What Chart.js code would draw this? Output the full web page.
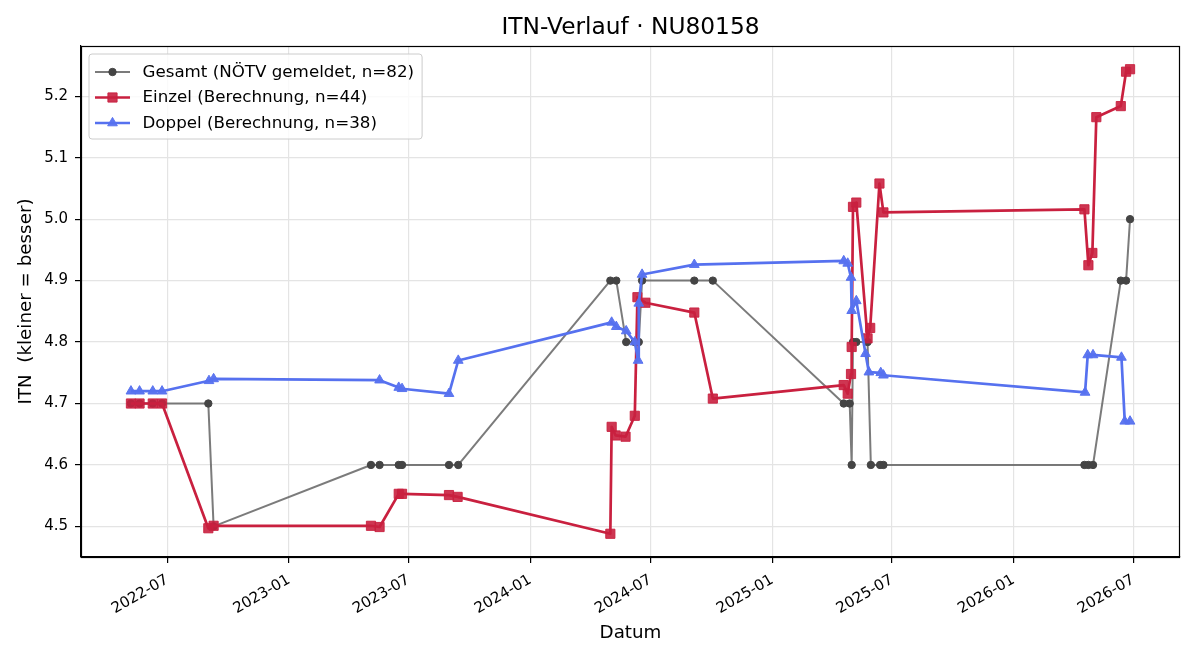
<!DOCTYPE html>
<html>
<head>
<meta charset="utf-8">
<script src="https://cdn.jsdelivr.net/npm/chart.js@4.4.1/dist/chart.umd.min.js"></script>
<style>
html,body{margin:0;padding:0;background:#ffffff;}
canvas{display:block;}
</style>
</head>
<body>
<canvas id="c" width="1200" height="660"></canvas>
<script>
// ---------- texts ----------
const titleText = 'ITN-Verlauf · NU80158';
const xAxisTitle = 'Datum';
const yAxisTitle = 'ITN  (kleiner = besser)';

// ---------- tick labels ----------
const xTickLabels = ['2022-07','2023-01','2023-07','2024-01','2024-07','2025-01','2025-07','2026-01','2026-07'];
const yTickValues = [4.5, 4.6, 4.7, 4.8, 4.9, 5.0, 5.1, 5.2];

// ---------- series: Gesamt ----------
const gesamtLabel = 'Gesamt (NÖTV gemeldet, n=82)';
const gesamtDates = [
  '2022-05-07','2022-05-20','2022-06-09','2022-06-23','2022-09-01','2022-09-09',
  '2023-05-05','2023-05-18','2023-06-16','2023-06-21','2023-08-31','2023-09-14',
  '2024-05-01','2024-05-10','2024-05-25','2024-06-07','2024-06-13','2024-06-18','2024-09-05','2024-10-03',
  '2025-04-19','2025-04-28','2025-05-01','2025-05-03','2025-05-08','2025-05-25','2025-05-30','2025-06-13','2025-06-18',
  '2026-04-18','2026-04-24','2026-05-01','2026-06-12','2026-06-20','2026-06-26'
];
const gesamtValues = [
  4.7, 4.7, 4.7, 4.7, 4.7, 4.5,
  4.6, 4.6, 4.6, 4.6, 4.6, 4.6,
  4.9, 4.9, 4.8, 4.8, 4.8, 4.9, 4.9, 4.9,
  4.7, 4.7, 4.6, 4.8, 4.8, 4.8, 4.6, 4.6, 4.6,
  4.6, 4.6, 4.6, 4.9, 4.9, 5.0
];

// ---------- series: Einzel ----------
const einzelLabel = 'Einzel (Berechnung, n=44)';
const einzelDates = [
  '2022-05-07','2022-05-20','2022-06-09','2022-06-23','2022-09-01','2022-09-09',
  '2023-05-05','2023-05-18','2023-06-16','2023-06-21','2023-08-31','2023-09-13',
  '2024-05-01','2024-05-03','2024-05-09','2024-05-24','2024-06-07','2024-06-11','2024-06-23','2024-09-05','2024-10-03',
  '2025-04-19','2025-04-25','2025-04-30','2025-05-01','2025-05-03','2025-05-08','2025-05-25','2025-05-29','2025-06-12','2025-06-18',
  '2026-04-18','2026-04-24','2026-04-30','2026-05-06','2026-06-12','2026-06-20','2026-06-26'
];
const einzelValues = [
  4.700, 4.700, 4.700, 4.700, 4.497, 4.501,
  4.501, 4.499, 4.553, 4.553, 4.551, 4.548,
  4.488, 4.662, 4.648, 4.646, 4.680, 4.873, 4.864, 4.848, 4.708,
  4.730, 4.716, 4.748, 4.792, 5.020, 5.027, 4.806, 4.823, 5.058, 5.011,
  5.016, 4.925, 4.945, 5.166, 5.184, 5.240, 5.244
];

// ---------- series: Doppel ----------
const doppelLabel = 'Doppel (Berechnung, n=38)';
const doppelDates = [
  '2022-05-07','2022-05-20','2022-06-09','2022-06-23','2022-09-02','2022-09-09',
  '2023-05-18','2023-06-16','2023-06-21','2023-08-31','2023-09-14',
  '2024-05-03','2024-05-10','2024-05-25','2024-06-07','2024-06-12','2024-06-13','2024-06-18','2024-09-05',
  '2025-04-19','2025-04-25','2025-04-30','2025-05-01','2025-05-08','2025-05-22','2025-05-27','2025-06-14','2025-06-18',
  '2026-04-19','2026-04-23','2026-05-01','2026-06-13','2026-06-18','2026-06-26'
];
const doppelValues = [
  4.720, 4.720, 4.720, 4.720, 4.737, 4.740,
  4.738, 4.726, 4.724, 4.716, 4.770,
  4.832, 4.825, 4.818, 4.800, 4.770, 4.863, 4.910, 4.926,
  4.932, 4.928, 4.905, 4.851, 4.867, 4.781, 4.751, 4.750, 4.746,
  4.718, 4.779, 4.779, 4.775, 4.671, 4.671
];

// ---------- helpers ----------
const toTs = d => Date.parse(d + 'T00:00:00Z');
const toPoints = (dates, vals) => dates.map((d, i) => ({ x: toTs(d), y: vals[i] }));
const xTickStamps = xTickLabels.map(l => toTs(l + '-01'));

const allX = [].concat(gesamtDates, einzelDates, doppelDates).map(toTs);
const allY = [].concat(gesamtValues, einzelValues, doppelValues);
const xMinD = Math.min(...allX), xMaxD = Math.max(...allX);
const yMinD = Math.min(...allY), yMaxD = Math.max(...allY);
const xPad = (xMaxD - xMinD) * 0.05, yPad = (yMaxD - yMinD) * 0.05;

const FONT = "'DejaVu Sans', 'Liberation Sans', sans-serif";
const TITLE_SIZE = 23.3, LABEL_SIZE = 18.3, TICK_SIZE = 15, LEGEND_SIZE = 16.7;

const datasets = [
  {
    label: gesamtLabel,
    data: toPoints(gesamtDates, gesamtValues),
    borderColor: 'rgba(100,100,100,0.85)',
    borderWidth: 2,
    borderJoinStyle: 'round',
    pointStyle: 'circle',
    pointRadius: 3.7,
    pointBackgroundColor: '#444444',
    pointBorderColor: '#444444',
    pointBorderWidth: 1,
    order: 3
  },
  {
    label: einzelLabel,
    data: toPoints(einzelDates, einzelValues),
    borderColor: '#c9203f',
    borderWidth: 2.7,
    borderJoinStyle: 'round',
    pointStyle: 'rect',
    pointRadius: 6.5,
    pointBackgroundColor: 'rgba(201,32,63,0.9)',
    pointBorderColor: 'rgba(201,32,63,0.9)',
    pointBorderWidth: 1,
    order: 2
  },
  {
    label: doppelLabel,
    data: toPoints(doppelDates, doppelValues),
    borderColor: '#5671ef',
    borderWidth: 2.7,
    borderJoinStyle: 'round',
    pointStyle: 'triangle',
    pointRadius: 5.6,
    pointBackgroundColor: 'rgba(86,113,239,0.95)',
    pointBorderColor: 'rgba(86,113,239,0.95)',
    pointBorderWidth: 1,
    order: 1
  }
];

// ---------- custom plugin: title, frame, legend ----------
const decor = {
  id: 'decor',
  afterDraw(chart) {
    const { ctx, chartArea: a } = chart;
    ctx.save();
    // frame (all four spines)
    ctx.strokeStyle = '#000000';
    ctx.lineWidth = 1.2;
    ctx.strokeRect(Math.round(a.left) + 0.5, Math.round(a.top) + 0.5,
                   Math.round(a.right - a.left) - 1, Math.round(a.bottom - a.top));
    // title
    ctx.fillStyle = '#000000';
    ctx.font = TITLE_SIZE + 'px ' + FONT;
    ctx.textAlign = 'center';
    ctx.textBaseline = 'middle';
    ctx.fillText(titleText, (a.left + a.right) / 2, 28);

    // legend
    ctx.font = LEGEND_SIZE + 'px ' + FONT;
    const ds = chart.data.datasets;
    let maxW = 0;
    ds.forEach(d => { maxW = Math.max(maxW, ctx.measureText(d.label).width); });
    const lx = a.left + 8, ly = a.top + 8;
    const rowH = 25.5;
    const w = 53.5 + maxW + 8, h = 85;
    ctx.beginPath();
    const r = 3;
    ctx.moveTo(lx + r, ly);
    ctx.lineTo(lx + w - r, ly); ctx.quadraticCurveTo(lx + w, ly, lx + w, ly + r);
    ctx.lineTo(lx + w, ly + h - r); ctx.quadraticCurveTo(lx + w, ly + h, lx + w - r, ly + h);
    ctx.lineTo(lx + r, ly + h); ctx.quadraticCurveTo(lx, ly + h, lx, ly + h - r);
    ctx.lineTo(lx, ly + r); ctx.quadraticCurveTo(lx, ly, lx + r, ly);
    ctx.closePath();
    ctx.fillStyle = 'rgba(255,255,255,0.8)';
    ctx.fill();
    ctx.strokeStyle = '#cccccc';
    ctx.lineWidth = 1;
    ctx.stroke();

    ds.forEach((d, i) => {
      const cy = ly + 18 + i * rowH;
      const x0 = lx + 6, x1 = lx + 41, xm = (x0 + x1) / 2;
      ctx.strokeStyle = d.borderColor;
      ctx.lineWidth = d.borderWidth;
      ctx.beginPath(); ctx.moveTo(x0, cy); ctx.lineTo(x1, cy); ctx.stroke();
      ctx.lineWidth = d.pointBorderWidth;
      ctx.fillStyle = d.pointBackgroundColor;
      ctx.strokeStyle = d.pointBorderColor;
      Chart.helpers.drawPoint(ctx, {
        pointStyle: d.pointStyle, radius: d.pointRadius, rotation: 0,
        borderWidth: d.pointBorderWidth
      }, xm, cy);
      ctx.fillStyle = '#000000';
      ctx.textAlign = 'left';
      ctx.textBaseline = 'middle';
      ctx.fillText(d.label, lx + 53.5, cy + 0.5);
    });
    ctx.restore();
  }
};

const gridColor = '#e4e4e4';

new Chart(document.getElementById('c'), {
  type: 'line',
  data: { datasets },
  options: {
    responsive: false,
    animation: false,
    devicePixelRatio: 1,
    layout: { padding: { top: 46, right: 20, left: 0, bottom: 0 } },
    elements: { line: { tension: 0, fill: false } },
    plugins: {
      legend: { display: false },
      title: { display: false },
      tooltip: { enabled: false }
    },
    scales: {
      x: {
        type: 'linear',
        min: xMinD - xPad,
        max: xMaxD + xPad,
        afterBuildTicks: s => { s.ticks = xTickStamps.map(v => ({ value: v })); },
        afterFit: s => { s.height = 103; },
        grid: { color: gridColor, lineWidth: 1.2, tickColor: '#000000', tickLength: 6, tickWidth: 1.2, drawTicks: true },
        border: { display: true, color: '#000000', width: 1.2 },
        ticks: {
          autoSkip: false, minRotation: 30, maxRotation: 30, padding: 8,
          color: '#000000', font: { family: FONT, size: TICK_SIZE },
          callback: (v, i) => xTickLabels[i]
        },
        title: { display: true, text: xAxisTitle, color: '#000000',
                 font: { family: FONT, size: LABEL_SIZE }, padding: { top: 0, bottom: 16 } }
      },
      y: {
        type: 'linear',
        min: yMinD - yPad,
        max: yMaxD + yPad,
        afterBuildTicks: s => { s.ticks = yTickValues.map(v => ({ value: v })); },
        afterFit: s => { s.width = 81; },
        grid: { color: gridColor, lineWidth: 1.2, tickColor: '#000000', tickLength: 6, tickWidth: 1.2, drawTicks: true },
        border: { display: true, color: '#000000', width: 1.2 },
        ticks: {
          padding: 7, color: '#000000', font: { family: FONT, size: TICK_SIZE },
          callback: v => Number(v).toFixed(1)
        },
        title: { display: true, text: yAxisTitle, color: '#000000',
                 font: { family: FONT, size: LABEL_SIZE }, padding: { top: 15, bottom: 0 } }
      }
    }
  },
  plugins: [decor]
});
</script>
</body>
</html>
